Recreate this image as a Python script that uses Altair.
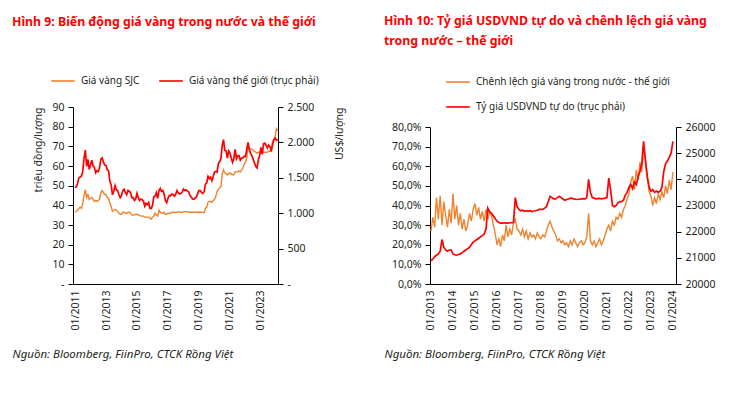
import altair as alt
import pandas as pd

ORANGE = "#F0822D"
RED = "#FF0000"
TXT = "#231F20"
FONT = "Noto Sans"

# ---------------- Panel 1: monthly from 01/2011 ----------------
LEFT_START = 2011
sjc_by_year = [
    [36.5, 37, 37.5, 38.5, 39, 38.5, 41, 45, 48, 44, 45.5, 43],
    [43.5, 44, 43, 42, 42.5, 42, 42.5, 43, 46.5, 47.5, 46.5, 45.5],
    [45.5, 44, 43.5, 41, 39.5, 37, 37.5, 38, 37.5, 37, 36, 35.5],
    [35.5, 36.5, 36.5, 36, 36, 36.5, 36.5, 36, 35, 35, 35, 35.5],
    [35.5, 35, 35, 34.5, 34.5, 34.5, 34, 34, 34, 34, 33.5, 33],
    [34, 34.5, 36, 35, 34.5, 37.5, 36.5, 36, 36, 36.5, 35.5, 35.5],
    [36, 36, 36, 36.5, 36.5, 36.5, 36.3, 36.5, 36.6, 36.6, 36.5, 36.5],
    [36.7, 36.8, 36.8, 36.7, 36.6, 36.5, 36.5, 36.6, 36.4, 36.5, 36.5, 36.5],
    [36.5, 36.6, 36.5, 36.4, 36.3, 38.5, 39, 41.5, 42, 42, 41.5, 42.5],
    [43, 44.5, 47, 48, 49, 49.5, 56, 58, 56.5, 56, 55.5, 56],
    [56.5, 56, 55.5, 55.5, 57, 57, 57, 57.5, 57, 58, 59, 61],
    [62, 64, 70, 69, 68.5, 68.5, 68, 67.5, 67, 66.5, 67, 67],
    [67, 67, 67, 67, 67, 67, 67.5, 67.5, 68.5, 70, 73, 75],
    [79, 78],
]
world_by_year = [
    [1360, 1375, 1420, 1500, 1510, 1525, 1590, 1780, 1890, 1660, 1760, 1620],
    [1680, 1750, 1670, 1650, 1570, 1600, 1590, 1640, 1760, 1780, 1720, 1680],
    [1675, 1610, 1600, 1450, 1400, 1260, 1310, 1390, 1330, 1320, 1260, 1220],
    [1250, 1320, 1340, 1290, 1260, 1320, 1310, 1290, 1220, 1220, 1180, 1200],
    [1280, 1220, 1180, 1200, 1190, 1170, 1100, 1140, 1120, 1150, 1070, 1065],
    [1110, 1230, 1240, 1290, 1210, 1320, 1350, 1310, 1320, 1270, 1180, 1150],
    [1210, 1250, 1245, 1270, 1265, 1240, 1270, 1320, 1285, 1270, 1280, 1300],
    [1340, 1320, 1330, 1315, 1300, 1250, 1230, 1200, 1195, 1215, 1225, 1280],
    [1320, 1320, 1295, 1280, 1300, 1410, 1430, 1520, 1490, 1510, 1460, 1520],
    [1580, 1590, 1580, 1700, 1730, 1770, 1960, 2040, 1890, 1880, 1780, 1880],
    [1850, 1780, 1720, 1770, 1900, 1770, 1810, 1815, 1750, 1780, 1780, 1805],
    [1800, 1900, 2000, 1900, 1840, 1810, 1760, 1710, 1660, 1640, 1760, 1810],
    [1930, 1830, 1980, 1990, 1960, 1920, 1960, 1940, 1870, 1990, 2040, 2060],
    [2030, 2040],
]
LEFT_XTICKS = [2011, 2013, 2015, 2017, 2019, 2021, 2023]
LEFT_Y1_TICKS = [0, 10, 20, 30, 40, 50, 60, 70, 80, 90]
LEFT_Y2_TICKS = [0, 500, 1000, 1500, 2000, 2500]
L_NAMES = ["Giá vàng SJC", "Giá vàng thế giới (trục phải)"]
L_TITLE = "Hình 9: Biến động giá vàng trong nước và thế giới"

# ---------------- Panel 2: monthly from 01/2013 ----------------
RIGHT_START = 2013
spread_by_year = [
    [27, 34, 29, 44, 33, 45, 30, 42, 35, 29, 38, 31],
    [46, 33, 40, 30, 36, 28, 33, 27, 30, 36, 32, 38],
    [41, 35, 39, 33, 37, 32, 38, 33, 37, 35, 30, 26],
    [20, 23, 19, 25, 22, 30, 24, 28, 25, 31, 33, 28],
    [27, 25, 28, 24, 27, 23, 26, 24, 25, 23, 26, 24],
    [23, 25, 24, 27, 30, 32, 29, 27, 25, 22, 23, 21],
    [22, 20, 21, 19, 22, 20, 23, 21, 19, 21, 22, 20],
    [21, 24, 36, 22, 20, 22, 19, 21, 23, 20, 22, 25],
    [28, 30, 27, 32, 30, 34, 33, 36, 34, 38, 40, 43],
    [46, 52, 55, 48, 58, 53, 62, 57, 70, 64, 55, 47],
    [45, 40, 44, 41, 46, 43, 47, 44, 50, 46, 53, 48],
    [57],
]
usdvnd_by_year = [
    [20900, 20950, 21050, 21100, 21150, 21250, 21700, 21400, 21300, 21250, 21300, 21300],
    [21150, 21120, 21100, 21130, 21150, 21200, 21250, 21300, 21350, 21400, 21500, 21600],
    [21650, 21700, 21750, 21800, 21850, 21900, 22100, 22900, 22750, 22700, 22600, 22500],
    [22400, 22350, 22330, 22330, 22340, 22330, 22330, 22340, 22340, 22350, 23300, 22950],
    [22850, 22800, 22820, 22780, 22800, 22780, 22800, 22770, 22790, 22800, 22820, 22850],
    [22850, 22850, 22900, 22950, 23150, 23350, 23300, 23250, 23250, 23300, 23350, 23300],
    [23250, 23200, 23230, 23250, 23280, 23270, 23250, 23240, 23230, 23240, 23250, 23260],
    [23250, 23300, 24000, 23500, 23300, 23280, 23250, 23260, 23270, 23250, 23270, 23280],
    [23300, 24050, 23600, 23000, 22950, 23000, 23100, 23150, 23150, 23200, 23400, 23500],
    [23700, 23800, 23650, 23900, 23800, 24100, 24300, 24600, 25450, 24700, 24100, 23700],
    [23550, 23600, 23500, 23550, 23500, 23550, 23700, 24300, 24600, 24700, 24850, 25000],
    [25450],
]
RIGHT_XTICKS = list(range(2013, 2025))
RIGHT_Y1_TICKS = [0, 10, 20, 30, 40, 50, 60, 70, 80]
RIGHT_Y2_TICKS = [20000, 21000, 22000, 23000, 24000, 25000, 26000]
R_NAMES = ["Chênh lệch giá vàng trong nước - thế giới", "Tỷ giá USDVND tự do (trục phải)"]
R_TITLE = ["Hình 10: Tỷ giá USDVND tự do và chênh lệch giá vàng", "trong nước – thế giới"]
SOURCE = "Nguồn: Bloomberg, FiinPro, CTCK Rồng Việt"

PANEL_H = 157


def monthly(start, by_year, name):
    vals = [v for yr in by_year for v in yr]
    return pd.DataFrame({"t": [start + i / 12 for i in range(len(vals))], "v": vals, "s": name})


def legend(x, y, direction):
    return alt.Legend(title=None, orient="none", legendX=x, legendY=y, direction=direction,
                      symbolType="stroke", symbolSize=560, symbolStrokeWidth=1.6,
                      labelFont=FONT, labelFontSize=10, labelColor=TXT, labelOffset=5,
                      labelLimit=400, columnPadding=15, rowPadding=7,
                      columns=(2 if direction == "horizontal" else 1))


def panel(df1, df2, names, xdom, xticks, y1dom, y1ticks, y1fmt, y1title, y2dom, y2ticks, y2fmt,
          y2title, w, yrange, leg, title, title_dx, title_offset, src_dx):
    color = alt.Color("s:N", scale=alt.Scale(domain=names, range=[ORANGE, RED]), legend=leg)
    x = alt.X("t:Q", scale=alt.Scale(domain=xdom, nice=False, zero=False),
              axis=alt.Axis(values=xticks, labelExpr="'01/' + datum.value", labelAngle=270,
                            ticks=False, labelPadding=6, title=SOURCE, titleFontStyle="italic",
                            titleFontWeight="normal", titleFontSize=11.5, titleColor=TXT, titleFont=FONT,
                            titleX=src_dx, titleY=70, titleAlign="left", titleBaseline="middle"))
    a = alt.Chart(df1).mark_line(strokeWidth=1.4).encode(
        x=x,
        y=alt.Y("v:Q", scale=alt.Scale(domain=y1dom, range=yrange, nice=False, zero=False),
                axis=alt.Axis(values=y1ticks, labelExpr=y1fmt, title=y1title, titleAnchor="end",
                              titleFontWeight="normal", titleFontSize=10.5, titlePadding=8)),
        color=color)
    b = alt.Chart(df2).mark_line(strokeWidth=1.7).encode(
        x=x,
        y=alt.Y("v:Q", scale=alt.Scale(domain=y2dom, range=yrange, nice=False, zero=False),
                axis=alt.Axis(orient="right", values=y2ticks, labelExpr=y2fmt, title=y2title,
                              titleAngle=270, titleAnchor="end", titleBaseline="top",
                              titleAlign="right", titleFontWeight="normal",
                              titleFontSize=10.5, titlePadding=21)),
        color=color)
    return alt.layer(a, b).resolve_scale(y="independent").properties(
        width=w, height=PANEL_H,
        title=alt.TitleParams(text=title, anchor="start", frame="group", dx=title_dx, fontSize=12.3,
                              font=FONT, fontWeight="bold", color=RED, offset=title_offset,
                              lineHeight=20))


left = panel(
    monthly(LEFT_START, sjc_by_year, L_NAMES[0]), monthly(LEFT_START, world_by_year, L_NAMES[1]), L_NAMES,
    [2010.87, 2024.1], LEFT_XTICKS,
    [0, 90], LEFT_Y1_TICKS, "datum.value == 0 ? '-' : datum.label", "triệu đồng/lượng",
    [0, 2500], LEFT_Y2_TICKS, "datum.value == 0 ? '-' : replace(format(datum.value, ','), ',', '.')",
    "US$/lượng", 205, [PANEL_H, -20], legend(-23, -59, "horizontal"), L_TITLE, -61, 40, -61)

right = panel(
    monthly(RIGHT_START, spread_by_year, R_NAMES[0]), monthly(RIGHT_START, usdvnd_by_year, R_NAMES[1]), R_NAMES,
    [2012.955, 2024.14], RIGHT_XTICKS,
    [0, 80], RIGHT_Y1_TICKS, "replace(format(datum.value, '.1f'), '.', ',') + '%'", "",
    [20000, 26000], RIGHT_Y2_TICKS, "format(datum.value, 'd')", "",
    246, [PANEL_H, 0], legend(15, -58, "vertical"), R_TITLE, -46, 22, -46)

chart = alt.hconcat(left, right, spacing=38).resolve_scale(color="independent").resolve_legend(
    color="independent").configure(
    padding={"left": 4, "top": 6, "right": 4, "bottom": 4},
    font=FONT,
).configure_view(strokeWidth=0).configure_axis(
    grid=False, domainColor="#000000", tickColor="#000000", tickSize=5, labelFont=FONT,
    labelFontSize=10.5, labelColor=TXT, titleFont=FONT, titleColor=TXT, labelPadding=4,
)

chart.save("out.html", embed_options={"renderer": "svg", "actions": False})
